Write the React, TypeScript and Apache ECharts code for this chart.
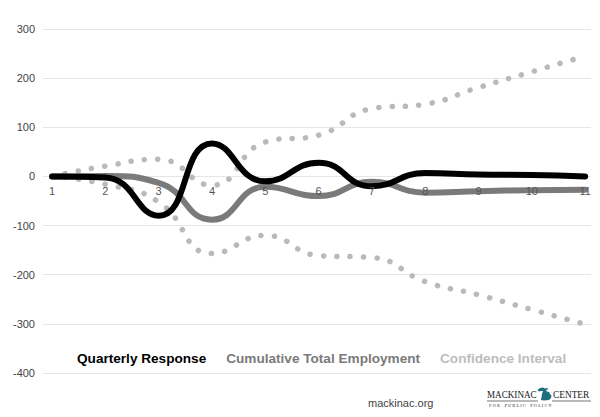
import React, { useEffect, useRef } from "react";
import * as echarts from "echarts";

const quarters = [1, 2, 3, 4, 5, 6, 7, 8, 9, 10, 11];
const quarterlyResponse = [0, -2, -80, 67, -10, 28, -20, 7, 4, 3, 0];
const cumulativeEmployment = [0, 1, -13, -88, -21, -40, -11, -33, -30, -28, -27];
const upperBound = [0, 21, 35, -18, 70, 84, 138, 147, 181, 213, 245];
const lowerBound = [0, -16, -52, -157, -120, -161, -165, -214, -241, -271, -301];
const yTicks = [-400, -300, -200, -100, 0, 100, 200, 300];

const FONT = '"Liberation Sans", Arial, Helvetica, sans-serif';
const SERIF = '"Liberation Serif", "Times New Roman", serif';

const pairs = (vals: number[]) => vals.map((v, i) => [quarters[i], v]);

export default function App() {
  const ref = useRef<HTMLDivElement>(null);
  useEffect(() => {
    if (!ref.current) return;
    const chart = echarts.init(ref.current, undefined, { renderer: "svg" });
    const dotted = {
      color: "#b9b9b9",
      width: 5.5,
      type: [0.1, 13.3] as number[],
      cap: "round" as const,
    };
    chart.setOption({
      animation: false,
      backgroundColor: "#ffffff",
      textStyle: { fontFamily: FONT },
      grid: { left: 43, right: 9, top: 29, bottom: 44, containLabel: false },
      legend: {
        left: 66,
        top: 346,
        itemWidth: 0,
        itemHeight: 0,
        itemGap: 14,
        selectedMode: false,
        textStyle: { fontFamily: FONT, fontSize: 13.6, fontWeight: "bold" },
        data: [
          { name: "Quarterly Response", textStyle: { color: "#000000" } },
          { name: "Cumulative Total Employment", textStyle: { color: "#7a7a7a" } },
          { name: "Confidence Interval", textStyle: { color: "#bdbdbd" } },
        ],
      },
      xAxis: {
        type: "value",
        min: 0.83,
        max: 11.11,
        z: 10,
        position: "bottom",
        offset: -196,
        axisLine: { show: false, onZero: false },
        axisTick: { show: false },
        splitLine: { show: false },
        axisLabel: {
          customValues: quarters,
          color: "#555555",
          fontSize: 11,
          margin: 8,
          fontFamily: FONT,
        },
      },
      yAxis: {
        type: "value",
        min: yTicks[0],
        max: yTicks[yTicks.length - 1],
        interval: 100,
        axisLine: { show: false },
        axisTick: { show: false },
        splitLine: { lineStyle: { color: "#e6e6e6", width: 1 } },
        axisLabel: { color: "#444444", fontSize: 11, margin: 8, fontFamily: FONT },
      },
      series: [
        {
          name: "Confidence Interval",
          type: "line",
          smooth: 0.5,
          showSymbol: false,
          data: pairs(upperBound),
          lineStyle: dotted,
          itemStyle: { color: "#bdbdbd" },
          z: 1,
        },
        {
          name: "Confidence Interval",
          type: "line",
          smooth: 0.5,
          showSymbol: false,
          data: pairs(lowerBound),
          lineStyle: dotted,
          itemStyle: { color: "#bdbdbd" },
          z: 1,
        },
        {
          name: "Cumulative Total Employment",
          type: "line",
          smooth: 0.5,
          showSymbol: false,
          data: pairs(cumulativeEmployment),
          lineStyle: { color: "#7a7a7a", width: 6, cap: "round" },
          itemStyle: { color: "#7a7a7a" },
          z: 2,
        },
        {
          name: "Quarterly Response",
          type: "line",
          smooth: 0.5,
          showSymbol: false,
          data: pairs(quarterlyResponse),
          lineStyle: { color: "#000000", width: 6, cap: "round" },
          itemStyle: { color: "#000000" },
          z: 3,
        },
      ],
      graphic: [
        {
          type: "text",
          left: 368,
          top: 397,
          style: { text: "mackinac.org", fontFamily: FONT, fontSize: 11, fill: "#444444" },
        },
        {
          type: "text",
          x: 487,
          y: 400,
          scaleX: 0.83,
          style: {
            text: "MACKINAC",
            fontFamily: SERIF,
            fontSize: 11,
            fill: "#1a1a1a",
            textVerticalAlign: "bottom",
          },
        },
        {
          type: "polygon",
          shape: {
            points: [
              [537.5, 390], [540, 388], [543, 387.5], [545, 388.5], [547, 388], [548.5, 389],
              [546, 390], [547, 391.5], [549, 392], [550, 394], [551.5, 395.5],
              [551, 398], [549, 400], [544, 400.5], [541, 400], [541.5, 397], [542, 394],
              [543, 391], [541, 391], [539, 391.5],
            ],
          },
          style: { fill: "#1e6e7e" },
        },
        {
          type: "text",
          x: 553,
          y: 400,
          scaleX: 0.85,
          style: {
            text: "CENTER",
            fontFamily: SERIF,
            fontSize: 11,
            fill: "#1a1a1a",
            textVerticalAlign: "bottom",
          },
        },
        {
          type: "line",
          shape: { x1: 487, y1: 401, x2: 538, y2: 401 },
          style: { stroke: "#1a1a1a", lineWidth: 0.6 },
        },
        {
          type: "line",
          shape: { x1: 552, y1: 401, x2: 591, y2: 401 },
          style: { stroke: "#1a1a1a", lineWidth: 0.6 },
        },
        {
          type: "text",
          x: 489,
          y: 403,
          style: {
            text: "F O R    P U B L I C    P O L I C Y",
            fontFamily: SERIF,
            fontSize: 4.5,
            fill: "#333333",
          },
        },
      ],
    });
    return () => chart.dispose();
  }, []);
  return <div ref={ref} style={{ width: 600, height: 417, position: "absolute", left: 0, top: 0 }} />;
}
